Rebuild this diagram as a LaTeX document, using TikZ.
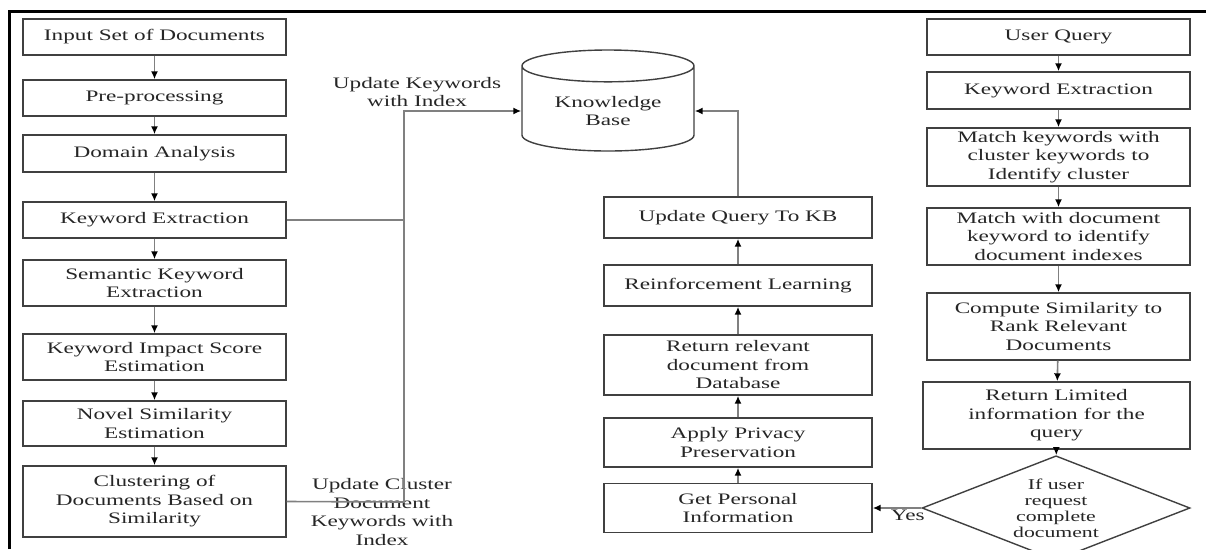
\documentclass[tikz,border=0pt]{standalone}
\usepackage{fontspec}
\setmainfont{Liberation Serif}[FakeStretch=1.45]
\usetikzlibrary{shapes.geometric, arrows.meta}

\tikzset{
  procbox/.style={rectangle, draw=black!75, line width=1.4, fill=white, align=center, inner sep=2, text=black!85},
  flow/.style={draw=black!50, line width=1.6, -{Latex[length=8, width=7, color=black]}},
  link/.style={draw=black!50, line width=1.6},
  note/.style={align=center, text=black!85, inner sep=0},
}

\begin{document}
\begin{tikzpicture}[x=1pt, y=-1pt, font=\fontsize{16}{18.5}\selectfont]
  \useasboundingbox (0,0) rectangle (1206,549);
  \draw[line width=3] (9,549) -- (9,11) -- (1206,11);

  % left column
  \node[procbox, minimum width=263, minimum height=36] (input) at (154.5,37) {Input Set of Documents};
  \node[procbox, minimum width=263, minimum height=36] (prepro) at (154.5,98) {Pre-processing};
  \node[procbox, minimum width=263, minimum height=37] (domain) at (154.5,153.5) {Domain Analysis};
  \node[procbox, minimum width=263, minimum height=36] (kwext) at (154.5,220) {Keyword Extraction};
  \node[procbox, minimum width=263, minimum height=46] (semantic) at (154.5,283) {Semantic Keyword\\Extraction};
  \node[procbox, minimum width=263, minimum height=46] (impact) at (154.5,357) {Keyword Impact Score\\Estimation};
  \node[procbox, minimum width=263, minimum height=45] (novel) at (154.5,423.5) {Novel Similarity\\Estimation};
  \node[procbox, minimum width=263, minimum height=71] (cluster) at (154.5,501.5) {Clustering of\\Documents Based on\\Similarity};

  % knowledge base
  \node[cylinder, shape border rotate=90, aspect=0.28, draw=black!75, line width=1.4, fill=white,
        align=center, text=black!85, minimum width=172, minimum height=101] (kb) at (608,111) {Knowledge\\Base};
  \node[note] (kwlabel) at (417,92) {Update Keywords\\with Index};
  \node[note, font=\fontsize{16}{18.5}\selectfont] (clusterlabel) at (382,512) {Update Cluster\\Document\\Keywords with\\Index};
  \coordinate (merge) at (404,502);

  % middle column
  \node[procbox, minimum width=268, minimum height=41] (updq) at (738,217.5) {Update Query To KB};
  \node[procbox, minimum width=268, minimum height=41] (reinf) at (738,285.5) {Reinforcement Learning};
  \node[procbox, minimum width=268, minimum height=60] (retrieve) at (738,365) {Return relevant\\document from\\Database};
  \node[procbox, minimum width=268, minimum height=49] (privacy) at (738,442.5) {Apply Privacy\\Preservation};
  \node[procbox, minimum width=268, minimum height=49] (getinfo) at (738,508) {Get Personal\\Information};

  % right column
  \node[procbox, minimum width=263, minimum height=36] (query) at (1058.5,37) {User Query};
  \node[procbox, minimum width=263, minimum height=37] (qkwext) at (1058.5,90.5) {Keyword Extraction};
  \node[procbox, minimum width=263, minimum height=58] (matchcl) at (1058.5,157) {Match keywords with\\cluster keywords to\\Identify cluster};
  \node[procbox, minimum width=263, minimum height=57] (matchdoc) at (1058.5,236.5) {Match with document\\keyword to identify\\document indexes};
  \node[procbox, minimum width=263, minimum height=67] (simil) at (1058.5,326.5) {Compute Similarity to\\Rank Relevant\\Documents};
  \node[procbox, minimum width=267, minimum height=67] (limited) at (1056.5,415.5) {Return Limited\\information for the\\query};
  \node[diamond, draw=black!75, line width=1.4, align=center, text=black!85, inner xsep=-8, inner ysep=-12,
        minimum width=268, minimum height=80, font=\fontsize{15}{16}\selectfont] (decide) at (1056,508) {If user\\request\\complete\\document};

  \draw[flow] (input) -- (prepro);
  \draw[flow] (prepro) -- (domain);
  \draw[flow] (domain) -- (kwext);
  \draw[flow] (kwext) -- (semantic);
  \draw[flow] (semantic) -- (impact);
  \draw[flow] (impact) -- (novel);
  \draw[flow] (novel) -- (cluster);
  \draw[flow] (cluster.east) -- (merge) |- (kb.west);
  \draw[link] (kwext.east) -- (kwext.east -| merge);

  \draw[flow] (query) -- (qkwext);
  \draw[flow] (qkwext) -- (matchcl);
  \draw[flow] (matchcl) -- (matchdoc);
  \draw[flow] (matchdoc) -- (simil);
  \draw[flow] (simil) -- (limited);
  \draw[flow] (limited) -- (decide);
  \draw[flow] (decide.west) -- node[below, pos=0.28, inner sep=1, text=black!85] {Yes} (getinfo.east);

  \draw[flow] (getinfo) -- (privacy);
  \draw[flow] (privacy) -- (retrieve);
  \draw[flow] (retrieve) -- (reinf);
  \draw[flow] (reinf) -- (updq);
  \draw[flow] (updq.north) |- (kb.east);
\end{tikzpicture}
\end{document}
